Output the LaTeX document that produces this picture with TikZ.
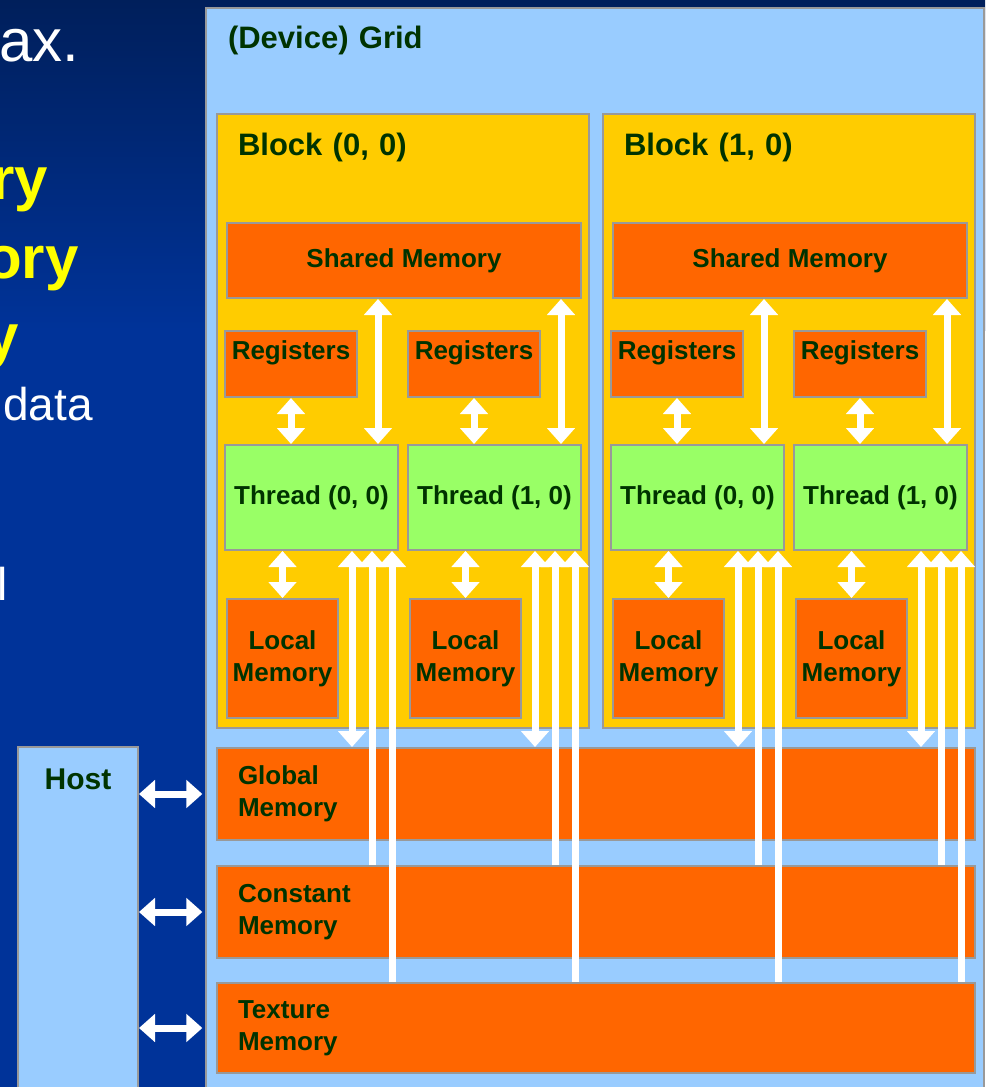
\documentclass[tikz,border=0pt]{standalone}
\usepackage{fontspec}
\setmainfont{Liberation Sans}
\usetikzlibrary{arrows.meta,calc}
\definecolor{bgtop}{HTML}{001F5B}
\definecolor{bgblue}{HTML}{003399}
\definecolor{gridblue}{HTML}{99CCFF}
\definecolor{blockgold}{HTML}{FFCC00}
\definecolor{memorange}{HTML}{FF6600}
\definecolor{threadgreen}{HTML}{99FF66}
\definecolor{labelgreen}{HTML}{003300}
\definecolor{edgegray}{HTML}{999999}
\definecolor{bullyellow}{HTML}{FFFF00}
\newcommand{\labfont}{\fontsize{19.5}{24}\selectfont\bfseries}
\newcommand{\headfont}{\fontsize{23.25}{28}\selectfont\bfseries}

\begin{document}
\begin{tikzpicture}[
  x=0.75pt, y=-0.75pt,
  cellbox/.style={draw=edgegray, line width=1.5pt, inner sep=0pt, anchor=north west, text=labelgreen},
  memcell/.style={cellbox, font=\labfont, align=center},
  slidetext/.style={anchor=base west, inner sep=0pt},
  link/.style={white, line width=5.25pt, {Triangle[width=20.5pt,length=12pt]}-{Triangle[width=20.5pt,length=12pt]}},
  fetch/.style={white, line width=5.25pt, -{Triangle[width=20.5pt,length=12pt]}},
]
\useasboundingbox (0,0) rectangle (985,1087);
\clip (0,0) rectangle (985,1087);

% Slide background
\fill[bgblue] (0,0) rectangle (985,1087);
\shade[top color=bgtop, bottom color=bgblue] (0,0) rectangle (985,330);

% Clipped bullet text on the left
\node[slidetext, text=white, font=\fontsize{45}{54}\selectfont] (bul1) at (-1,62) {ax.};
\node[slidetext, text=bullyellow, font=\fontsize{45}{54}\selectfont\bfseries] (bul2) at (-9,200) {ry};
\node[slidetext, text=bullyellow, font=\fontsize{45}{54}\selectfont\bfseries] (bul3) at (-15,278) {ory};
\node[slidetext, text=bullyellow, font=\fontsize{45}{54}\selectfont\bfseries] (bul4) at (-15,356) {y};
\node[slidetext, text=white, font=\fontsize{34.5}{41}\selectfont] (bul5) at (3,420) {data};
\node[slidetext, text=white, font=\fontsize{34.5}{41}\selectfont] (bul6) at (-3,600) {l};

% Device grid and host
\node[cellbox, fill=gridblue, font=\headfont, align=left, inner xsep=16.5pt,
  text width=550.5pt, text height=30.75pt, text depth=789pt] (grid) at (205,7) {(Device) Grid};
\node[cellbox, fill=gridblue, font=\fontsize{22.5}{27}\selectfont\bfseries, align=center,
  text width=90pt, text height=31.5pt, text depth=234pt] (host) at (17,746) {Host};

% Device-wide memories
\node[memcell, fill=memorange, align=left, inner xsep=15.75pt, text width=537pt, minimum height=69pt] (gmem) at (216,747) {Global\\Memory};
\node[memcell, fill=memorange, align=left, inner xsep=15.75pt, text width=537pt, minimum height=69pt] (cmem) at (216,865) {Constant\\Memory};
\node[memcell, fill=memorange, align=left, inner xsep=15.75pt, text width=537pt, minimum height=67.5pt] (tmem) at (216,982) {Texture\\Memory};

% Blocks, each with shared memory and two threads
\foreach \b in {0,1}{
  \pgfmathsetmacro{\bx}{216+386*\b}
  \node[cellbox, fill=blockgold, font=\headfont, align=left, inner xsep=15.75pt,
    text width=247.5pt, text height=31.5pt, text depth=429pt] (blk\b) at (\bx,113) {Block (\b, 0)};
  \node[memcell, fill=memorange, minimum width=265.5pt, minimum height=56.25pt] (sh\b) at (\bx+10,222) {Shared Memory};
  \foreach \t in {0,1}{
    \pgfmathsetmacro{\tx}{\bx+8+183*\t}
    \node[memcell, fill=memorange, text width=99pt, text height=21pt, text depth=28.5pt] (reg\b\t) at (\tx,330) {Registers};
    \node[memcell, fill=threadgreen, minimum width=129.75pt, minimum height=78.75pt] (th\b\t) at (\tx,444) {Thread (\t, 0)};
    \node[memcell, fill=memorange, minimum width=83.25pt, minimum height=89.25pt] (loc\b\t) at (\tx+2,598) {Local\\Memory};
  }
}

% Thread access paths
\foreach \b in {0,1}{
  \foreach \t in {0,1}{
    \coordinate (up\b\t) at ($(th\b\t.north east)+(-21,0)$);
    \coordinate (g\b\t) at ($(th\b\t.south east)+(-47,0)$);
    \coordinate (c\b\t) at ($(th\b\t.south east)+(-27,0)$);
    \coordinate (x\b\t) at ($(th\b\t.south east)+(-7,0)$);
    \draw[link] (reg\b\t.south) -- (reg\b\t.south |- th\b\t.north);
    \draw[link] (up\b\t |- sh\b.south) -- (up\b\t);
    \draw[link] (loc\b\t.north) -- (loc\b\t.north |- th\b\t.south);
    \draw[link] (g\b\t) -- (g\b\t |- gmem.north);
    \draw[fetch] (c\b\t |- cmem.north) -- (c\b\t);
    \draw[fetch] (x\b\t |- tmem.north) -- (x\b\t);
  }
}

% Host transfers
\foreach \m in {gmem,cmem,tmem}
  \draw[link, shorten >=2pt] (host.east |- \m.west) -- (grid.west |- \m.west);

\end{tikzpicture}
\end{document}
